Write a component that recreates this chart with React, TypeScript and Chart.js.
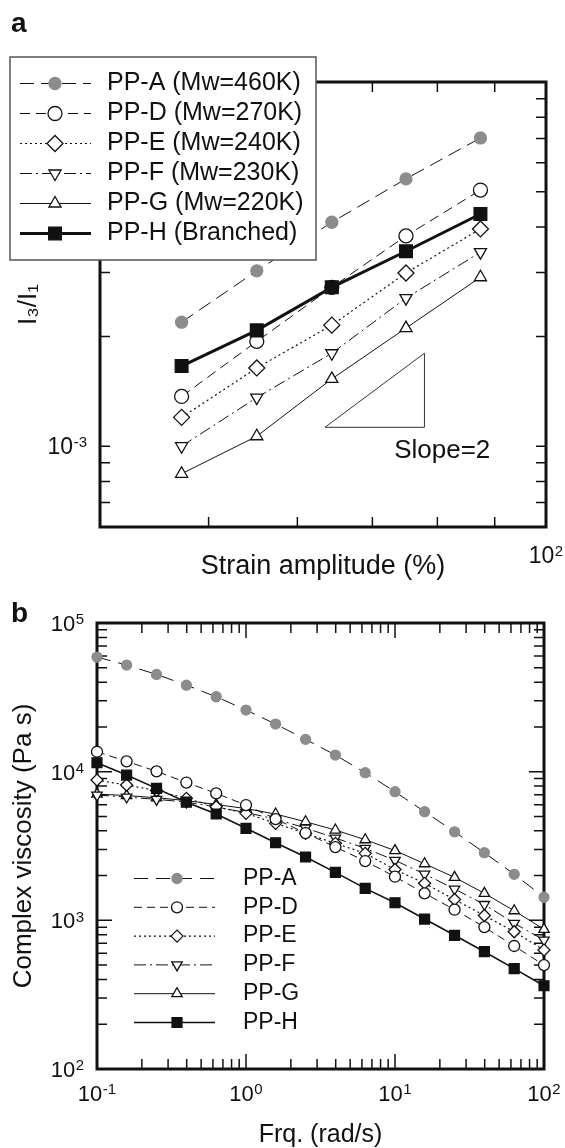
import React, { useEffect, useRef } from 'react';
import { Chart, registerables } from 'chart.js';
import { drawPoint } from 'chart.js/helpers';

Chart.register(...registerables);

// ---------- Panel a data ----------
const strainAmp = [47.3, 55.2, 64.4, 75.0, 87.4];
const ppA_ratio = [2.19e-3, 3.03e-3, 4.12e-3, 5.42e-3, 7.02e-3];
const ppD_ratio = [1.37e-3, 1.94e-3, 2.73e-3, 3.78e-3, 5.05e-3];
const ppE_ratio = [1.2e-3, 1.64e-3, 2.15e-3, 2.99e-3, 3.95e-3];
const ppF_ratio = [1.0e-3, 1.36e-3, 1.8e-3, 2.55e-3, 3.41e-3];
const ppG_ratio = [8.4e-4, 1.065e-3, 1.53e-3, 2.11e-3, 2.91e-3];
const ppH_ratio = [1.66e-3, 2.08e-3, 2.73e-3, 3.43e-3, 4.34e-3];
const slopeTriX = [63.5, 77.9, 77.9, 63.5];
const slopeTriY = [1.127e-3, 1.127e-3, 1.8e-3, 1.127e-3];
const slopeLabel = 'Slope=2';
const slopeLabelX = 80.8;
const slopeLabelY = 0.97e-3;
const strainTicks = [40, 50, 60, 70, 80, 90, 100];
const ratioTicks = [6e-4, 7e-4, 8e-4, 9e-4, 1e-3, 2e-3, 3e-3, 4e-3, 5e-3, 6e-3, 7e-3, 8e-3, 9e-3, 1e-2];
const labelsA = ['PP-A (Mw=460K)', 'PP-D (Mw=270K)', 'PP-E (Mw=240K)', 'PP-F (Mw=230K)', 'PP-G (Mw=220K)', 'PP-H (Branched)'];

// ---------- Panel b data ----------
const freq = [0.1, 0.158, 0.251, 0.398, 0.631, 1, 1.58, 2.51, 3.98, 6.31, 10, 15.8, 25.1, 39.8, 63.1, 100];
const ppA_eta = [59000, 52100, 45100, 38200, 31900, 25960, 20900, 16490, 12940, 9840, 7330, 5380, 3940, 2850, 2040, 1430];
const ppD_eta = [13610, 11730, 10050, 8450, 7145, 5963, 4800, 3865, 3111, 2505, 1965, 1519, 1179, 901, 672, 500];
const ppE_eta = [8780, 8126, 7465, 6613, 5807, 5244, 4490, 3846, 3295, 2822, 2196, 1774, 1380, 1077, 838, 631];
const ppF_eta = [6960, 6750, 6512, 6246, 5780, 5309, 4800, 4176, 3577, 3050, 2533, 2048, 1624, 1278, 955, 737];
const ppG_eta = [7070, 6905, 6675, 6390, 6008, 5647, 5187, 4603, 4050, 3484, 2947, 2402, 1946, 1519, 1160, 870];
const ppH_eta = [11480, 9490, 7720, 6230, 5190, 4160, 3325, 2666, 2102, 1641, 1313, 1020, 793, 615, 473, 363];
const freqTicks = [0.1, 0.2, 0.3, 0.4, 0.5, 0.6, 0.7, 0.8, 0.9, 1, 2, 3, 4, 5, 6, 7, 8, 9, 10, 20, 30, 40, 50, 60, 70, 80, 90, 100];
const etaTicks = [100, 200, 300, 400, 500, 600, 700, 800, 900, 1000, 2000, 3000, 4000, 5000, 6000, 7000, 8000, 9000, 10000, 20000, 30000, 40000, 50000, 60000, 70000, 80000, 90000, 100000];
const labelsB = ['PP-A', 'PP-D', 'PP-E', 'PP-F', 'PP-G', 'PP-H'];

const FONT = "'Liberation Sans', Arial, Helvetica, sans-serif";
const INK = '#111';
const GRAY = '#8c8c8c';

const SUP: Record<string, string> = { '-': '⁻', '0': '⁰', '1': '¹', '2': '²', '3': '³', '4': '⁴', '5': '⁵', '6': '⁶', '7': '⁷', '8': '⁸', '9': '⁹' };
const isDecade = (v: number) => Math.abs(Math.log10(v) - Math.round(Math.log10(v))) < 1e-6;
const decadeLabel = (v: number) =>
  isDecade(v) ? '10' + String(Math.round(Math.log10(v))).split('').map((c) => SUP[c]).join('') : '';

const pts = (xs: number[], ys: number[]) => xs.map((x, i) => ({ x, y: ys[i] }));

function makeFramePlugin(major: number, minor: number) {
  return {
    id: 'frameTicks',
    beforeDatasetsDraw(chart: any) {
      const { ctx, chartArea } = chart;
      const { left, top, right, bottom } = chartArea;
      const xs = chart.scales.x;
      const ys = chart.scales.y;
      ctx.save();
      ctx.strokeStyle = INK;
      ctx.lineWidth = 1.5;
      ctx.beginPath();
      for (const t of xs.ticks) {
        const p = xs.getPixelForValue(t.value);
        if (p <= left + 1 || p >= right - 1) continue;
        const len = isDecade(t.value) ? major : minor;
        ctx.moveTo(p, bottom);
        ctx.lineTo(p, bottom - len);
        ctx.moveTo(p, top);
        ctx.lineTo(p, top + len);
      }
      for (const t of ys.ticks) {
        const p = ys.getPixelForValue(t.value);
        if (p <= top + 1 || p >= bottom - 1) continue;
        const len = isDecade(t.value) ? major : minor;
        ctx.moveTo(left, p);
        ctx.lineTo(left + len, p);
        ctx.moveTo(right, p);
        ctx.lineTo(right - len, p);
      }
      ctx.stroke();
      ctx.lineWidth = 3;
      ctx.strokeRect(left, top, right - left, bottom - top);
      ctx.restore();
    },
  };
}

// Draws the decade tick labels of the scales as "10" with a raised exponent.
function makeDecadeLabelPlugin(o: { size: number; sup: number; xDrop: number; yGap: number }) {
  return {
    id: 'decadeLabels',
    afterDraw(chart: any) {
      const { ctx, chartArea } = chart;
      const draw = (v: number, ax: number, cy: number, align: 'center' | 'right') => {
        const exp = String(Math.round(Math.log10(v)));
        ctx.font = `${o.size}px ${FONT}`;
        const w1 = ctx.measureText('10').width;
        ctx.font = `${o.sup}px ${FONT}`;
        const w2 = ctx.measureText(exp).width;
        const w = w1 + w2 + 0.5;
        const x0 = align === 'center' ? ax - w / 2 : ax - w;
        const base = cy + 0.358 * o.size;
        ctx.font = `${o.size}px ${FONT}`;
        ctx.fillText('10', x0, base);
        ctx.font = `${o.sup}px ${FONT}`;
        ctx.fillText(exp, x0 + w1 + 0.5, base - 0.716 * o.size - 1.5 + 0.716 * o.sup);
      };
      ctx.save();
      ctx.fillStyle = INK;
      ctx.textAlign = 'left';
      ctx.textBaseline = 'alphabetic';
      const xs = chart.scales.x;
      const ys = chart.scales.y;
      xs.ticks.forEach((t: any) => {
        if (!t.label) return;
        draw(t.value, xs.getPixelForValue(t.value), chartArea.bottom + o.xDrop, 'center');
      });
      ys.ticks.forEach((t: any) => {
        if (!t.label) return;
        draw(t.value, chartArea.left - o.yGap, ys.getPixelForValue(t.value), 'right');
      });
      ctx.restore();
    },
  };
}

type KeyLayout = {
  box?: { l: number; t: number; r: number; b: number };
  x0: number; x1: number; xm: number; xt: number; y0: number; dy: number; fontSize: number;
};

function makeKeyPlugin(k: KeyLayout) {
  return {
    id: 'seriesKey',
    afterDraw(chart: any) {
      const ctx = chart.ctx;
      ctx.save();
      if (k.box) {
        ctx.fillStyle = '#fff';
        ctx.fillRect(k.box.l, k.box.t, k.box.r - k.box.l, k.box.b - k.box.t);
        ctx.strokeStyle = '#555';
        ctx.lineWidth = 1.5;
        ctx.strokeRect(k.box.l, k.box.t, k.box.r - k.box.l, k.box.b - k.box.t);
      }
      const sets = chart.data.datasets.filter((d: any) => d.inKey);
      sets.forEach((ds: any, i: number) => {
        const y = k.y0 + i * k.dy;
        ctx.strokeStyle = ds.borderColor;
        ctx.lineWidth = ds.borderWidth;
        ctx.setLineDash(ds.borderDash || []);
        ctx.beginPath();
        ctx.moveTo(k.x0, y);
        ctx.lineTo(k.x1, y);
        ctx.stroke();
        ctx.setLineDash([]);
        ctx.fillStyle = ds.pointBackgroundColor;
        ctx.strokeStyle = ds.pointBorderColor;
        ctx.lineWidth = ds.pointBorderWidth;
        drawPoint(ctx, { pointStyle: ds.pointStyle, rotation: ds.pointRotation || 0, radius: ds.pointRadius, borderWidth: ds.pointBorderWidth } as any, k.xm, y);
        ctx.fillStyle = INK;
        ctx.font = `${k.fontSize}px ${FONT}`;
        ctx.textBaseline = 'middle';
        ctx.textAlign = 'left';
        ctx.fillText(ds.label, k.xt, y);
      });
      ctx.restore();
    },
  };
}

const slopeTextPlugin = {
  id: 'slopeText',
  afterDatasetsDraw(chart: any) {
    const { ctx } = chart;
    const x = chart.scales.x.getPixelForValue(slopeLabelX);
    const y = chart.scales.y.getPixelForValue(slopeLabelY);
    ctx.save();
    ctx.fillStyle = INK;
    ctx.font = `26px ${FONT}`;
    ctx.textAlign = 'center';
    ctx.textBaseline = 'middle';
    ctx.fillText(slopeLabel, x, y);
    ctx.restore();
  },
};

type Style = { dash: number[]; width: number; shape: string; rot?: number; fill: string; border: string; r: number };

function series(label: string, data: any[], s: Style, order = 1) {
  return {
    label,
    data,
    inKey: true,
    order,
    borderColor: INK,
    borderWidth: s.width,
    borderDash: s.dash,
    pointStyle: s.shape,
    pointRotation: s.rot || 0,
    pointRadius: s.r,
    pointBackgroundColor: s.fill,
    pointBorderColor: s.border,
    pointBorderWidth: 1.3,
    fill: false,
    tension: 0,
    clip: false,
  };
}

function axisCommon(ticksList: number[], fitProp: 'width' | 'height', fitVal: number) {
  return {
    type: 'logarithmic' as const,
    afterBuildTicks: (s: any) => {
      s.ticks = ticksList.map((v) => ({ value: v, major: isDecade(v) }));
    },
    afterFit: (s: any) => {
      s[fitProp] = fitVal;
    },
    grid: { display: false, drawTicks: false },
    border: { display: false },
    ticks: {
      display: false,
      autoSkip: false,
      maxRotation: 0,
      minRotation: 0,
      color: INK,
      callback: (v: any) => decadeLabel(Number(v)),
    },
  };
}

function PanelA() {
  const ref = useRef<HTMLCanvasElement>(null);
  useEffect(() => {
    const styles: Style[] = [
      { dash: [14, 7], width: 1, shape: 'circle', fill: GRAY, border: GRAY, r: 6 },
      { dash: [10, 6], width: 1, shape: 'circle', fill: '#fff', border: INK, r: 7 },
      { dash: [2, 3], width: 1.2, shape: 'rectRot', fill: '#fff', border: INK, r: 8 },
      { dash: [12, 4, 2, 4], width: 1, shape: 'triangle', rot: 180, fill: '#fff', border: INK, r: 7 },
      { dash: [], width: 1, shape: 'triangle', fill: '#fff', border: INK, r: 7 },
      { dash: [], width: 3, shape: 'rect', fill: INK, border: INK, r: 9 },
    ];
    const vals = [ppA_ratio, ppD_ratio, ppE_ratio, ppF_ratio, ppG_ratio, ppH_ratio];
    const datasets: any[] = vals.map((v, i) => series(labelsA[i], pts(strainAmp, v), styles[i], i === 5 ? 0 : 1));
    datasets.push({
      label: 'slope',
      data: pts(slopeTriX, slopeTriY),
      inKey: false,
      order: 2,
      borderColor: '#333',
      borderWidth: 1,
      pointRadius: 0,
      fill: false,
      tension: 0,
    });
    const chart = new Chart(ref.current as HTMLCanvasElement, {
      type: 'line',
      data: { datasets },
      options: {
        animation: false,
        responsive: false,
        devicePixelRatio: 1,
        layout: { padding: { left: 0, top: 82, right: 19, bottom: 0 } },
        plugins: { legend: { display: false }, tooltip: { enabled: false } },
        scales: {
          x: {
            ...axisCommon(strainTicks, 'height', 63),
            min: 40,
            max: 100,
            title: { display: true, text: 'Strain amplitude (%)', color: INK, font: { family: FONT, size: 27, lineHeight: 1 }, padding: { top: 0, bottom: 10 } },
          },
          y: {
            ...axisCommon(ratioTicks, 'width', 100),
            min: 6e-4,
            max: 1e-2,
            title: { display: true, text: 'I₃/I₁', color: INK, font: { family: FONT, size: 26, lineHeight: 1 }, padding: { top: 16, bottom: 0 } },
          },
        },
      } as any,
      plugins: [
        makeFramePlugin(10, 10),
        slopeTextPlugin,
        makeDecadeLabelPlugin({ size: 23, sup: 15, xDrop: 27.5, yGap: 13 }),
        makeKeyPlugin({ box: { l: 10, t: 57, r: 316, b: 260 }, x0: 20, x1: 91, xm: 55, xt: 107, y0: 83.5, dy: 30, fontSize: 25 }),
      ],
    });
    return () => chart.destroy();
  }, []);
  return <canvas ref={ref} width={565} height={590} style={{ position: 'absolute', left: 0, top: 0, width: 565, height: 590 }} />;
}

function PanelB() {
  const ref = useRef<HTMLCanvasElement>(null);
  useEffect(() => {
    const styles: Style[] = [
      { dash: [14, 8], width: 1, shape: 'circle', fill: GRAY, border: GRAY, r: 5 },
      { dash: [8, 5], width: 1, shape: 'circle', fill: '#fff', border: INK, r: 5.5 },
      { dash: [2, 3], width: 1.2, shape: 'rectRot', fill: '#fff', border: INK, r: 6 },
      { dash: [12, 4, 2, 4], width: 1, shape: 'triangle', rot: 180, fill: '#fff', border: INK, r: 6 },
      { dash: [], width: 1, shape: 'triangle', fill: '#fff', border: INK, r: 6 },
      { dash: [], width: 1.6, shape: 'rect', fill: INK, border: INK, r: 7 },
    ];
    const vals = [ppA_eta, ppD_eta, ppE_eta, ppF_eta, ppG_eta, ppH_eta];
    const datasets: any[] = vals.map((v, i) => series(labelsB[i], pts(freq, v), styles[i], i === 5 ? 0 : 1));
    const chart = new Chart(ref.current as HTMLCanvasElement, {
      type: 'line',
      data: { datasets },
      options: {
        animation: false,
        responsive: false,
        devicePixelRatio: 1,
        layout: { padding: { left: 0, top: 33, right: 21, bottom: 0 } },
        plugins: { legend: { display: false }, tooltip: { enabled: false } },
        scales: {
          x: {
            ...axisCommon(freqTicks, 'height', 79),
            min: 0.1,
            max: 100,
            title: { display: true, text: 'Frq. (rad/s)', color: INK, font: { family: FONT, size: 25, lineHeight: 1 }, padding: { top: 0, bottom: 0 } },
          },
          y: {
            ...axisCommon(etaTicks, 'width', 97),
            min: 100,
            max: 100000,
            title: { display: true, text: 'Complex viscosity (Pa s)', color: INK, font: { family: FONT, size: 26, lineHeight: 1 }, padding: { top: 11, bottom: 0 } },
          },
        },
      } as any,
      plugins: [
        makeFramePlugin(15, 10),
        makeDecadeLabelPlugin({ size: 22, sup: 15, xDrop: 24, yGap: 13 }),
        makeKeyPlugin({ x0: 134, x1: 215, xm: 177, xt: 243, y0: 288.5, dy: 28.8, fontSize: 23 }),
      ],
    });
    return () => chart.destroy();
  }, []);
  return <canvas ref={ref} width={565} height={558} style={{ position: 'absolute', left: 0, top: 590, width: 565, height: 558 }} />;
}

const panelLetter: React.CSSProperties = {
  position: 'absolute',
  left: 11,
  fontFamily: FONT,
  fontWeight: 'bold',
  fontSize: 28,
  lineHeight: '28px',
  color: INK,
};

export default function App() {
  return (
    <div style={{ position: 'absolute', left: 0, top: 0, width: 565, height: 1148, background: '#fff', overflow: 'hidden' }}>
      <PanelA />
      <PanelB />
      <div style={{ ...panelLetter, top: 9 }}>a</div>
      <div style={{ ...panelLetter, top: 599 }}>b</div>
    </div>
  );
}
